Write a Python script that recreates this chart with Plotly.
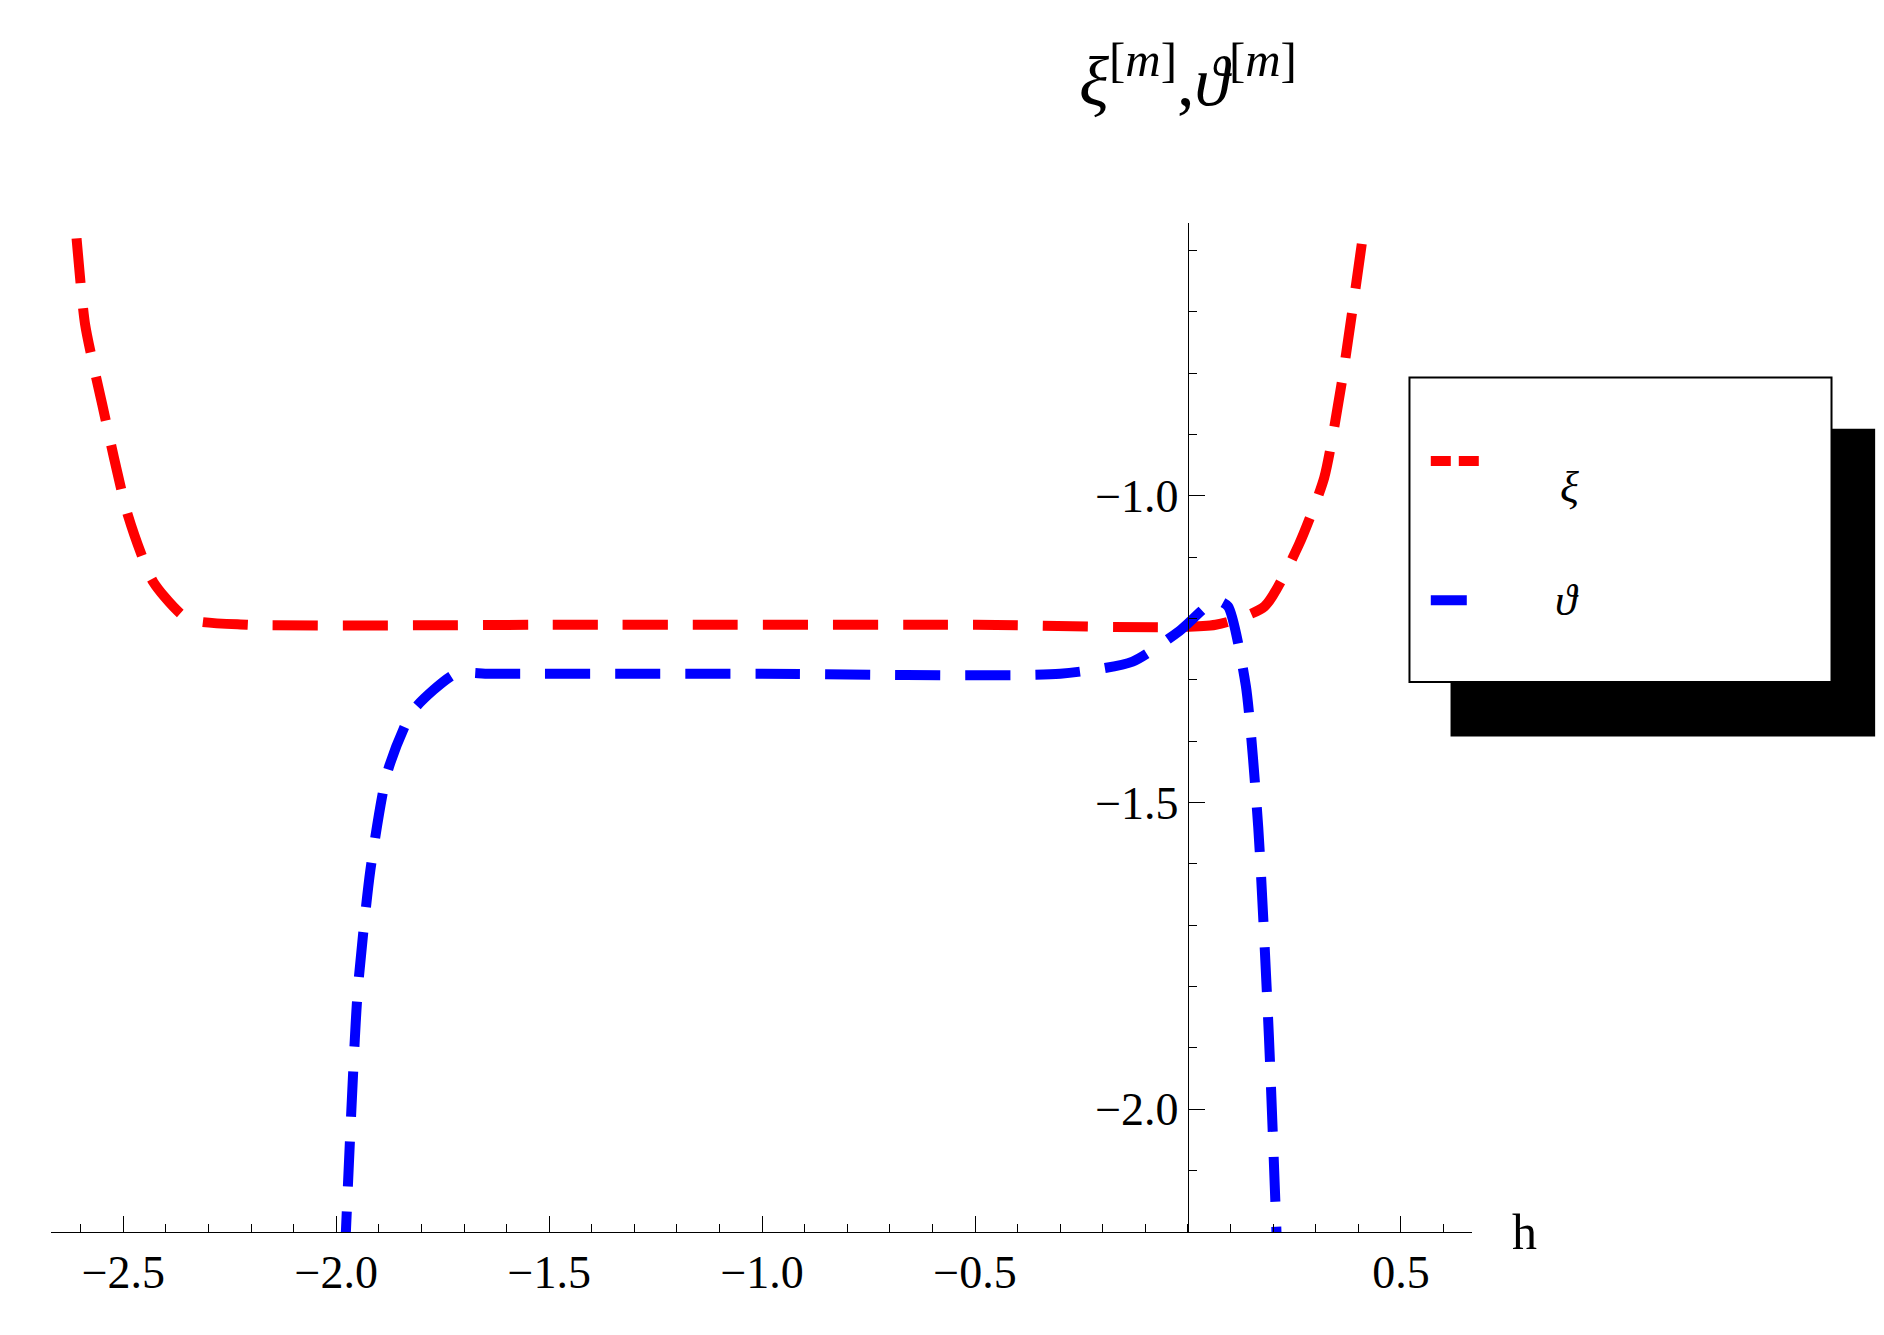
import plotly.graph_objects as go

# values
xi_h = [-2.61, -2.59, -2.55, -2.49, -2.43, -2.35, -2.21, -1.5, -0.5, 0.065, 0.18, 0.26, 0.32, 0.36, 0.41]
xi_v = [-0.58, -0.72, -0.85, -1.03, -1.14, -1.20, -1.21, -1.21, -1.21, -1.21, -1.18, -1.08, -0.97, -0.82, -0.58]
th_h = [-1.98, -1.95, -1.92, -1.88, -1.82, -1.72, -1.64, -1.0, -0.30, -0.13, -0.02, 0.065, 0.094, 0.136, 0.165, 0.19, 0.21]
th_v = [-2.24, -1.81, -1.61, -1.45, -1.35, -1.29, -1.29, -1.29, -1.29, -1.27, -1.22, -1.17, -1.18, -1.31, -1.54, -1.88, -2.24]

FONT = 'Liberation Serif'

fig = go.Figure()
fig.add_trace(go.Scatter(x=xi_h, y=xi_v, mode='lines', line_shape='spline', line_smoothing=0.6, name='ξ',
                         line=dict(color='red', width=10, dash='45px,25px')))
fig.add_trace(go.Scatter(x=th_h, y=th_v, mode='lines', line_shape='spline', line_smoothing=0.6, name='ϑ',
                         line=dict(color='blue', width=10, dash='45px,25px')))

fig.update_layout(
  width=1884, height=1335, showlegend=False,
  plot_bgcolor='white', paper_bgcolor='white',
  margin=dict(l=43, r=420, t=215, b=111),
  font=dict(family=FONT, size=46, color='black'),
  xaxis=dict(range=[-2.67, 0.667], showgrid=False, zeroline=False, showline=True, linecolor='black',
             tickvals=[-2.5, -2.0, -1.5, -1.0, -0.5, 0.5], ticktext=['−2.5', '−2.0', '−1.5', '−1.0', '−0.5', '0.5'],
             ticks='inside', ticklen=16, tickcolor='black',
             minor=dict(dtick=0.1, tick0=0, ticks='inside', ticklen=8, tickcolor='black')),
  yaxis=dict(range=[-2.2, -0.555], showgrid=False, zeroline=False, showline=True, linecolor='black',
             anchor='free', position=0.8,
             tickvals=[-2.0, -1.5, -1.0], ticktext=['−2.0', '−1.5', '−1.0'],
             ticks='inside', ticklen=16, tickcolor='black',
             minor=dict(dtick=0.1, tick0=0, ticks='inside', ticklen=8, tickcolor='black')),
)

# legend box with drop shadow
fig.add_shape(type='rect', xref='paper', yref='paper', x0=0.9856, x1=1.283, y0=0.492, y1=0.795,
              fillcolor='black', line=dict(color='black'))
fig.add_shape(type='rect', xref='paper', yref='paper', x0=0.956, x1=1.253, y0=0.545, y1=0.847,
              fillcolor='white', line=dict(color='black', width=2))
fig.add_shape(type='line', xref='paper', yref='paper', x0=0.971, x1=1.009, y0=0.764, y1=0.764,
              line=dict(color='red', width=10, dash='20px,8px'))
fig.add_shape(type='line', xref='paper', yref='paper', x0=0.971, x1=1.009, y0=0.626, y1=0.626,
              line=dict(color='blue', width=10, dash='36px,20px'))
fig.add_annotation(xref='paper', yref='paper', x=1.077, y=0.764, text='<i>ξ</i>', showarrow=False,
                   font=dict(size=44))
fig.add_annotation(xref='paper', yref='paper', x=1.077, y=0.626, text='<i>ϑ</i>', showarrow=False,
                   font=dict(size=44))

fig.add_annotation(xref='paper', yref='paper', x=0.8, xanchor='center', y=1.1, yanchor='bottom',
                   text='<i>ξ</i><sup>[<i>m</i>]</sup>,<i>ϑ</i><sup>[<i>m</i>]</sup>',
                   showarrow=False, font=dict(size=70))
fig.add_annotation(xref='paper', yref='paper', x=1.037, xanchor='center', y=0.0, yanchor='middle', text='h',
                   showarrow=False, font=dict(size=50))

fig.write_html('out.html')
